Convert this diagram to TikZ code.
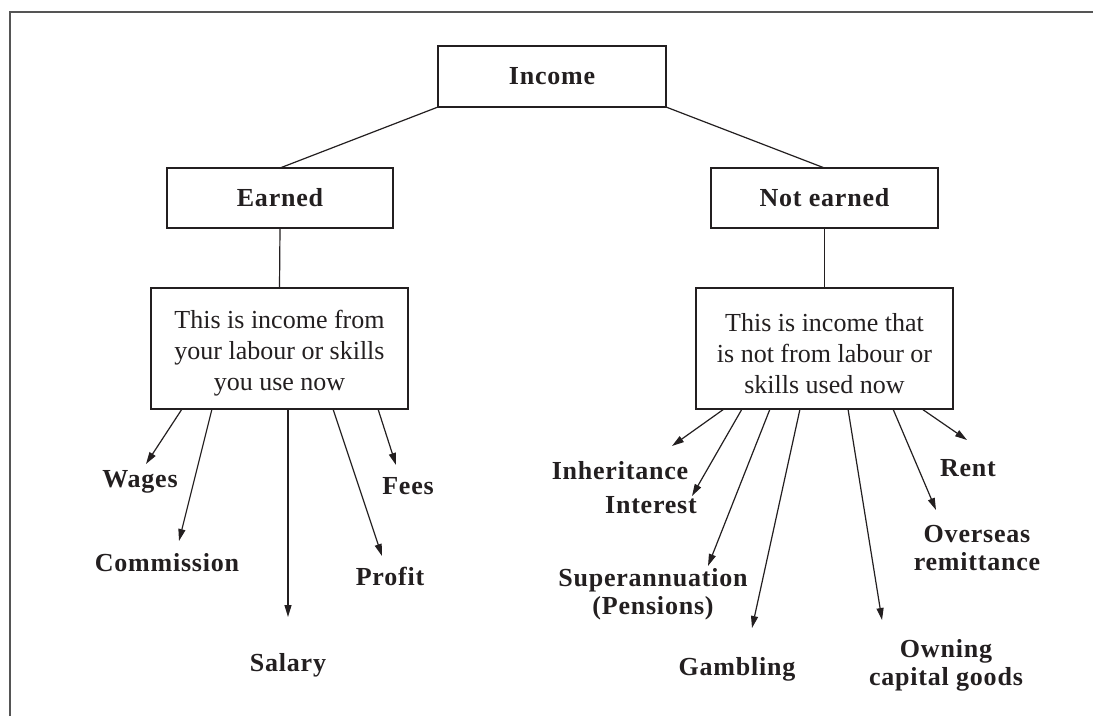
\documentclass[tikz,border=0pt]{standalone}
\usepackage{fontspec}
\setmainfont{Liberation Serif}
\usetikzlibrary{arrows.meta,calc}
\definecolor{ink}{HTML}{231F20}
\definecolor{framegray}{HTML}{555555}
\begin{document}
\begin{tikzpicture}[x=1pt,y=-1pt,
  box/.style={draw=ink,line width=1.3pt,inner sep=0pt,outer sep=0pt,
    text=ink,align=center},
  head/.style={box,font=\fontsize{26}{30}\selectfont\bfseries\addfontfeatures{LetterSpace=3}},
  descbox/.style={box,minimum width=257pt,minimum height=121pt},
  desctext/.style={text=ink,inner sep=0pt,align=center,
    font=\fontsize{26}{31}\selectfont},
  lbl/.style={text=ink,inner sep=0pt,align=center,
    font=\fontsize{26}{28}\selectfont\bfseries\addfontfeatures{LetterSpace=3}},
  link/.style={draw=ink,line width=1.2pt},
  arr/.style={link,-{Triangle[length=12pt,width=7pt]}}]

% canvas and frame
\useasboundingbox (0,0) rectangle (1093,716);
\fill[white] (0,0) rectangle (1093,716);
\draw[framegray,line width=2pt] (10,716) -- (10,12) -- (1093,12);

% headings
\node[head,minimum width=228pt,minimum height=61pt] (inc) at (552,76.5) {Income};
\node[head,minimum width=226pt,minimum height=60pt] (earn) at (280,198) {Earned};
\node[head,minimum width=227pt,minimum height=60pt] (nearn) at (824.5,198) {Not earned};

% descriptions
\node[descbox] (ldesc) at (279.5,348.5) {};
\node[desctext] (ldesctext) at ($(ldesc.center)+(0,5)$) {This is income from\\your labour or skills\\you use now};
\node[descbox] (rdesc) at (824.5,348.5) {};
\node[desctext] (rdesctext) at ($(rdesc.center)+(0,5)$) {This is income that\\is not from labour or\\skills used now};

% tree links
\draw[link] (inc.south west) -- (earn.north);
\draw[link] (inc.south east) -- (nearn.north);
\draw[link] (earn.south) -- (ldesc.north);
\draw[link] (nearn.south) -- (rdesc.north);

% earned income: arrow tips
\coordinate (tWages) at (146,464);
\coordinate (tComm) at (179,541);
\coordinate (tSal) at (288,617);
\coordinate (tProf) at (382,556);
\coordinate (tFees) at (396,465);

\draw[arr] ($(ldesc.south west)+(31,0)$) -- (tWages);
\draw[arr] ($(ldesc.south west)+(61,0)$) -- (tComm);
\draw[arr] ($(ldesc.south west)+(137,0)$) -- (tSal);
\draw[arr] ($(ldesc.south west)+(182,0)$) -- (tProf);
\draw[arr] ($(ldesc.south west)+(227,0)$) -- (tFees);

\node[lbl,anchor=base] (wages) at (140,487) {Wages};
\node[lbl,anchor=base] (comm) at (167,571) {Commission};
\node[lbl,anchor=base] (sal) at (288,671) {Salary};
\node[lbl,anchor=base] (prof) at (390,585) {Profit};
\node[lbl,anchor=base] (fees) at (408,494) {Fees};

% unearned income: arrow tips
\coordinate (tInh) at (672,446);
\coordinate (tInt) at (692,496);
\coordinate (tSup) at (708,566);
\coordinate (tGam) at (752,628);
\coordinate (tOwn) at (882,620);
\coordinate (tOver) at (936,510);
\coordinate (tRent) at (967,440);

\draw[arr] ($(rdesc.south west)+(28,0)$) -- (tInh);
\draw[arr] ($(rdesc.south west)+(46,0)$) -- (tInt);
\draw[arr] ($(rdesc.south west)+(74,0)$) -- (tSup);
\draw[arr] ($(rdesc.south west)+(104,0)$) -- (tGam);
\draw[arr] ($(rdesc.south west)+(152,0)$) -- (tOwn);
\draw[arr] ($(rdesc.south west)+(197,0)$) -- (tOver);
\draw[arr] ($(rdesc.south west)+(226,0)$) -- (tRent);

\node[lbl,anchor=base] (inh) at (620,479) {Inheritance};
\node[lbl,anchor=base] (int) at (651,513) {Interest};
\node[lbl] (sup) at (653,594) {Superannuation\\(Pensions)};
\node[lbl,anchor=base] (gam) at (737,675) {Gambling};
\node[lbl] (own) at (946,665) {Owning\\capital goods};
\node[lbl] (over) at (977,548) {Overseas\\remittance};
\node[lbl,anchor=base] (rent) at (968,476) {Rent};
\end{tikzpicture}
\end{document}
